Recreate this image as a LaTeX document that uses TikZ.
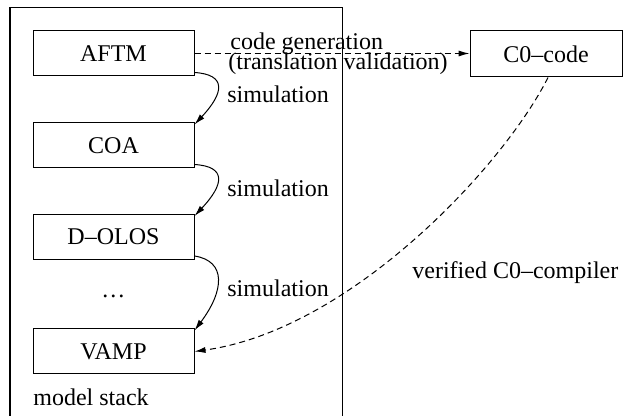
\documentclass[tikz,border=0pt]{standalone}
\usepackage{fontspec}
\setmainfont{Liberation Serif}
\usetikzlibrary{arrows.meta,calc}
\begin{document}
\begin{tikzpicture}[x=0.5pt,y=-0.5pt,
  every node/.style={font=\fontsize{12}{14}\selectfont},
  layer/.style={draw,line width=0.5pt,inner sep=0pt,minimum width=80.5pt,minimum height=22.5pt},
  lbl/.style={inner sep=0pt,anchor=base west},
  tip/.style={-{Latex[length=5.5pt,width=3pt]}},
  simarc/.style={tip,line width=0.5pt},
  dasharc/.style={tip,line width=0.5pt,dash pattern=on 3pt off 2pt}]
\useasboundingbox (0,0) rectangle (623,416);
% model stack frame
\draw[line width=0.5pt] (10,417) -- (10,7.5) -- (342,7.5) -- (342,417);
\node[layer] (AFTM) at (113.5,53.5) {AFTM};
\node[layer] (COA) at (113.5,145.5) {COA};
\node[layer] (DOLOS) at (113.5,237) {D--OLOS};
\node[inner sep=0pt,anchor=base] (dots) at (113.5,298) {\dots};
\node[layer] (VAMP) at (113.5,351.5) {VAMP};
\node[lbl] (ms) at (33,406) {model stack};
\node[layer,minimum width=76pt,minimum height=23pt] (C0) at (546,54) {C0--code};
% code generation
\draw[dasharc] (AFTM.east) -- (C0.west |- AFTM.east);
\node[lbl] (cg) at (230,50) {code generation};
\node[lbl] (tv) at (228,70) {(translation validation)};
% simulations
\draw[simarc] ($(AFTM.south east)+(0,-4)$) .. controls +(32,2) and +(30,-32) .. ($(COA.north east)+(0,2)$);
\draw[simarc] ($(COA.south east)+(0,-4)$) .. controls +(32,2) and +(30,-32) .. ($(DOLOS.north east)+(0,2)$);
\draw[simarc] ($(DOLOS.south east)+(0,-4)$) .. controls +(32,5) and +(30,-40) .. ($(VAMP.north east)+(0,2)$);
\node[lbl] (s1) at (227,103) {simulation};
\node[lbl] (s2) at (227,197) {simulation};
\node[lbl] (s3) at (227,297) {simulation};
% compiler
\draw[dasharc] ($(C0.south)+(2,0)$) .. controls (503,167) and (350,330) .. (VAMP.east);
\node[lbl] (vc) at (412,279) {verified C0--compiler};
\end{tikzpicture}
\end{document}
